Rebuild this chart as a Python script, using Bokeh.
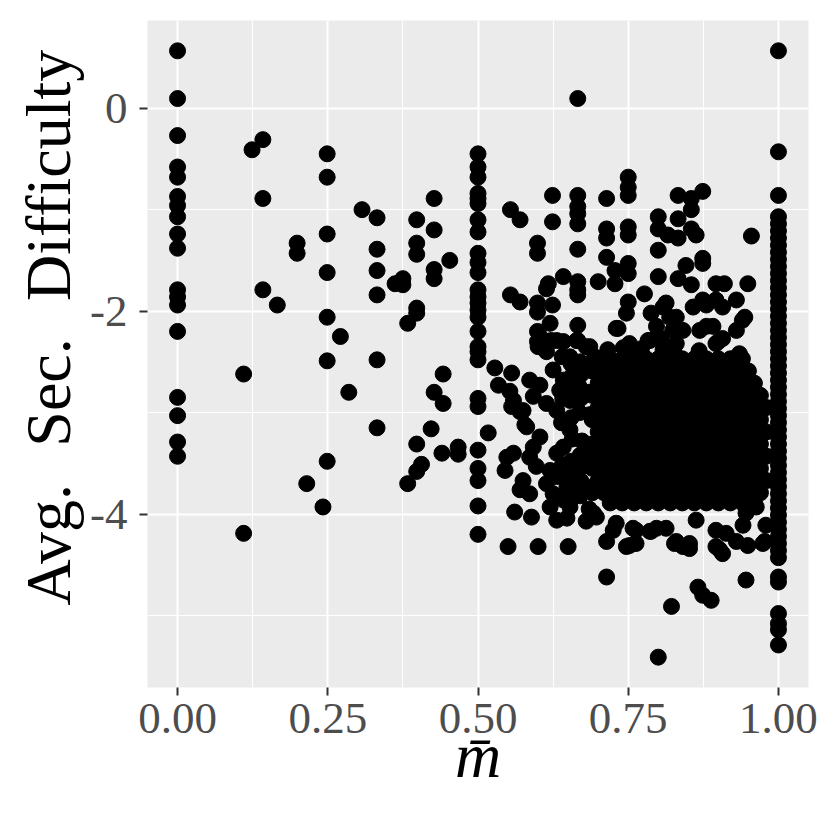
from bokeh.plotting import figure
from bokeh.models import FixedTicker, ColumnDataSource, Range1d, NumeralTickFormatter, Title
from bokeh.embed import file_html
from bokeh.resources import INLINE

# ---- data ----
col0_y = [0.565, 0.095, -0.27, -0.58, -0.68, -0.87, -0.96, -1.07, -1.24, -1.38,
          -1.79, -1.86, -1.94, -2.20, -2.85, -3.03, -3.29, -3.43]

col_half_y = [-0.45, -0.58, -0.68, -0.84, -0.89, -0.94, -1.10, -1.22, -1.43, -1.52,
              -1.62, -1.79, -1.86, -1.92, -1.99, -2.06, -2.20, -2.35, -2.40, -2.48,
              -2.86, -2.94, -3.37, -3.55, -3.67, -3.92, -4.20]

col1_y = [0.565, -0.43, -0.86, -1.07, -1.14, -1.21, -1.28, -1.35, -1.42, -1.49, -1.56,
          -1.63, -1.70, -1.77, -1.84, -1.91, -1.98, -2.05, -2.12, -2.19, -2.26, -2.33,
          -2.40, -2.47, -2.54, -2.61, -2.68, -2.75, -2.82, -2.89, -2.96, -3.03, -3.10,
          -3.17, -3.24, -3.31, -3.38, -3.45, -3.52, -3.59, -3.66, -3.73, -3.80, -3.87,
          -3.94, -4.01, -4.08, -4.15, -4.22, -4.29, -4.36, -4.43, -4.62, -4.67, -4.98,
          -5.08, -5.14, -5.29]

left_x = [0.110, 0.110, 0.124, 0.142, 0.142, 0.142, 0.166, 0.199, 0.199, 0.215, 0.242,
          0.249, 0.249, 0.249, 0.249, 0.249, 0.249, 0.249, 0.271, 0.285, 0.307, 0.332,
          0.332, 0.332, 0.332, 0.332, 0.332, 0.362, 0.375, 0.375, 0.383, 0.383, 0.398,
          0.398, 0.398, 0.398, 0.398, 0.398, 0.398, 0.406, 0.422, 0.427, 0.427, 0.427,
          0.427, 0.427, 0.440, 0.442, 0.442, 0.453, 0.467, 0.467]
left_y = [-2.62, -4.19, -0.41, -0.31, -0.89, -1.79, -1.94, -1.33, -1.43, -3.70, -3.93,
          -0.45, -0.68, -1.24, -1.62, -2.06, -2.49, -3.48, -2.25, -2.80, -1.00, -1.08,
          -1.39, -1.60, -1.84, -2.48, -3.15, -1.73, -1.68, -1.74, -2.12, -3.70, -1.10,
          -1.33, -1.44, -1.97, -2.02, -3.31, -3.58, -3.51, -3.16, -0.89, -1.20, -1.59,
          -1.68, -2.80, -3.40, -2.62, -2.91, -1.50, -3.34, -3.41]

upper_x = [0.554, 0.570, 0.624, 0.624, 0.666, 0.666, 0.666, 0.666, 0.666, 0.714, 0.750,
           0.750, 0.750, 0.833, 0.855, 0.874, 0.855, 0.800, 0.833, 0.800, 0.816, 0.833,
           0.855, 0.863, 0.714, 0.714, 0.750, 0.750, 0.599, 0.599, 0.666, 0.714, 0.800,
           0.955, 0.874, 0.874, 0.846, 0.750, 0.750, 0.728, 0.728, 0.700, 0.642, 0.617,
           0.614, 0.666, 0.666, 0.666, 0.554, 0.570, 0.599, 0.599, 0.624, 0.800, 0.833,
           0.855, 0.896, 0.910, 0.949, 0.777, 0.750, 0.747, 0.733, 0.788, 0.808, 0.819,
           0.797, 0.824, 0.786, 0.805, 0.752, 0.813, 0.830, 0.841, 0.830,
           0.858, 0.880, 0.907, 0.930, 0.944, 0.930, 0.907, 0.896, 0.869, 0.880, 0.891,
           0.874, 0.896, 0.940,
           0.730, 0.666, 0.666, 0.599, 0.599, 0.622, 0.642, 0.680, 0.620, 0.783, 0.900,
           0.686, 0.694, 0.603, 0.631, 0.600, 0.614, 0.664, 0.653,
           0.716, 0.772, 0.826, 0.868, 0.935, 0.742, 0.808]
upper_y = [-1.00, -1.10, -0.86, -1.12, 0.095, -0.86, -0.97, -1.04, -1.14, -0.89, -0.68,
           -0.78, -0.86, -0.86, -0.89, -0.82, -1.00, -1.07, -1.09, -1.19, -1.25, -1.28,
           -1.19, -1.25, -1.19, -1.28, -1.17, -1.25, -1.33, -1.43, -1.39, -1.47, -1.40,
           -1.26, -1.48, -1.53, -1.55, -1.53, -1.63, -1.60, -1.73, -1.71, -1.66, -1.73,
           -1.78, -1.71, -1.79, -1.84, -1.84, -1.91, -1.92, -2.01, -1.94, -1.66, -1.68,
           -1.74, -1.73, -1.73, -1.73, -1.83, -1.91, -2.02, -2.17, -2.02, -1.96, -2.06,
           -2.15, -2.19, -2.29, -2.27, -2.32, -1.92, -2.06, -2.19, -2.32,
           -1.96, -1.94, -1.96, -1.89, -2.06, -2.19, -2.27, -2.32, -2.19, -2.15, -2.15,
           -1.89, -1.89, -2.09,
           -2.17, -2.14, -2.29, -2.20, -2.30, -2.29, -2.30, -2.35, -2.12, -2.29, -2.30,
           -2.35, -2.45, -2.25, -2.29, -2.35, -2.40, -2.29, -2.45,
           -2.38, -2.37, -2.40, -2.39, -2.42, -2.36, -2.38]

mid_x = [0.528, 0.556, 0.534, 0.553, 0.586, 0.603, 0.625, 0.642, 0.636, 0.559, 0.575,
         0.592, 0.614, 0.631, 0.653, 0.581, 0.517, 0.603, 0.592, 0.653, 0.642, 0.631,
         0.548, 0.559, 0.545, 0.586, 0.597, 0.620, 0.631, 0.575, 0.570, 0.586, 0.614,
         0.625, 0.648, 0.669, 0.561, 0.589, 0.620, 0.631, 0.648, 0.653, 0.680, 0.692,
         0.550, 0.600, 0.650, 0.578, 0.570, 0.556,
         0.670, 0.672, 0.668, 0.671, 0.669, 0.673, 0.670, 0.668, 0.672, 0.670,
         0.655, 0.656, 0.654, 0.655, 0.657, 0.655, 0.654, 0.656,
         0.640, 0.641, 0.639, 0.640, 0.642,
         0.685, 0.684, 0.686, 0.685, 0.684, 0.686, 0.685]
mid_y = [-2.56, -2.61, -2.73, -2.79, -2.68, -2.73, -2.58, -2.68, -2.78, -2.88, -2.98,
         -2.84, -2.91, -2.98, -2.88, -3.14, -3.20, -3.24, -3.34, -3.17, -3.34, -3.40,
         -3.44, -3.40, -3.57, -3.44, -3.53, -3.57, -3.63, -3.67, -3.76, -3.80, -3.70,
         -3.80, -3.73, -3.70, -3.98, -4.03, -3.93, -4.06, -4.04, -3.93, -4.07, -3.99,
         -4.32, -4.32, -4.32, -3.12, -2.99, -2.94,
         -2.50, -2.62, -2.74, -2.86, -3.00, -3.28, -3.42, -3.56, -3.68, -3.82,
         -2.52, -2.64, -2.76, -3.05, -3.26, -3.48, -3.60, -3.84,
         -2.45, -2.86, -3.10, -3.52, -3.86,
         -2.56, -2.80, -3.02, -3.36, -3.50, -3.74, -3.95]

low_x = [0.714, 0.747, 0.763, 0.714, 0.827, 0.852, 0.841, 0.896, 0.907, 0.930, 0.949,
         0.977, 0.946, 0.866, 0.874, 0.888, 0.822, 0.800, 0.979, 0.941, 0.946, 0.963,
         0.788, 0.813, 0.730, 0.725, 0.763, 0.863, 0.896, 0.913, 0.752, 0.786, 0.830,
         0.852, 0.902, 0.974, 0.758, 0.797, 0.697]
low_y = [-4.27, -4.32, -4.29, -4.62, -4.29, -4.29, -4.32, -4.32, -4.39, -4.27, -4.31,
         -4.27, -4.65, -4.72, -4.80, -4.85, -4.91, -5.41, -4.11, -4.11, -3.99, -3.93,
         -4.17, -4.14, -4.09, -4.16, -4.16, -4.06, -4.16, -4.19, -4.31, -4.17, -4.27,
         -4.34, -4.35, -4.29, -4.14, -4.14, -4.03]

# dense core, row by row (y value, x positions read across the black mass)
core_rows_y = [-2.47, -2.59, -2.71, -2.83, -2.95, -3.07, -3.19, -3.31, -3.43, -3.55,
               -3.67, -3.79, -3.89]
core_rows_x = [
    [0.70, 0.72, 0.74, 0.76, 0.78, 0.80, 0.82, 0.84, 0.86, 0.88, 0.90, 0.92, 0.94],
    [0.69, 0.71, 0.73, 0.75, 0.77, 0.79, 0.81, 0.83, 0.85, 0.87, 0.89, 0.91, 0.93, 0.95],
    [0.70, 0.72, 0.74, 0.76, 0.78, 0.80, 0.82, 0.84, 0.86, 0.88, 0.90, 0.92, 0.94, 0.96],
    [0.69, 0.71, 0.73, 0.75, 0.77, 0.79, 0.81, 0.83, 0.85, 0.87, 0.89, 0.91, 0.93, 0.95, 0.97],
    [0.70, 0.72, 0.74, 0.76, 0.78, 0.80, 0.82, 0.84, 0.86, 0.88, 0.90, 0.92, 0.94, 0.96, 0.98],
    [0.69, 0.71, 0.73, 0.75, 0.77, 0.79, 0.81, 0.83, 0.85, 0.87, 0.89, 0.91, 0.93, 0.95, 0.97],
    [0.70, 0.72, 0.74, 0.76, 0.78, 0.80, 0.82, 0.84, 0.86, 0.88, 0.90, 0.92, 0.94, 0.96, 0.98],
    [0.69, 0.71, 0.73, 0.75, 0.77, 0.79, 0.81, 0.83, 0.85, 0.87, 0.89, 0.91, 0.93, 0.95, 0.97],
    [0.70, 0.72, 0.74, 0.76, 0.78, 0.80, 0.82, 0.84, 0.86, 0.88, 0.90, 0.92, 0.94, 0.96, 0.98],
    [0.69, 0.71, 0.73, 0.75, 0.77, 0.79, 0.81, 0.83, 0.85, 0.87, 0.89, 0.91, 0.93, 0.95, 0.97],
    [0.70, 0.72, 0.74, 0.76, 0.78, 0.80, 0.82, 0.84, 0.86, 0.88, 0.90, 0.92, 0.94, 0.96, 0.98],
    [0.69, 0.71, 0.73, 0.75, 0.77, 0.79, 0.81, 0.83, 0.85, 0.87, 0.89, 0.91, 0.93, 0.95, 0.97],
    [0.72, 0.74, 0.76, 0.78, 0.80, 0.82, 0.84, 0.86, 0.88, 0.90, 0.92, 0.94, 0.96],
]

x_ticks = [0, 0.25, 0.5, 0.75, 1.0]
x_minor = [0.125, 0.375, 0.625, 0.875]
y_ticks = [-4, -2, 0]
y_minor = [-5, -3, -1]

x_title = "m\u0304"
y_title = "Avg.\u2002\u200aSec.\u2002\u200aDifficulty"

# ---- assemble ----
xs, ys = [], []
for v in col0_y:
    xs.append(0.0); ys.append(v)
for v in col_half_y:
    xs.append(0.5); ys.append(v)
for v in col1_y:
    xs.append(1.0); ys.append(v)
for gx, gy in [(left_x, left_y), (upper_x, upper_y), (mid_x, mid_y), (low_x, low_y)]:
    xs.extend(gx); ys.extend(gy)
for ry, rx in zip(core_rows_y, core_rows_x):
    for v in rx:
        xs.append(v); ys.append(ry)

src = ColumnDataSource(dict(x=xs, y=ys))

p = figure(width=822, height=822, output_backend="svg", toolbar_location=None,
           x_range=Range1d(-0.05, 1.05), y_range=Range1d(-5.709, 0.864),
           min_border_left=147, min_border_right=14, min_border_top=20,
           min_border_bottom=135, background_fill_color="#EBEBEB",
           border_fill_color="white")
p.outline_line_color = None

p.scatter("x", "y", source=src, size=16, color="black")

p.xaxis.ticker = FixedTicker(ticks=x_ticks, minor_ticks=x_minor)
p.yaxis.ticker = FixedTicker(ticks=y_ticks, minor_ticks=y_minor)
p.xaxis.formatter = NumeralTickFormatter(format="0.00")
p.yaxis.formatter = NumeralTickFormatter(format="0")

for g in (p.xgrid, p.ygrid):
    g.grid_line_color = "white"
    g.grid_line_width = 2
    g.minor_grid_line_color = "white"
    g.minor_grid_line_width = 1

p.axis.axis_line_color = None
p.axis.major_tick_line_color = "#333333"
p.axis.major_tick_line_width = 2
p.axis.major_tick_out = 8
p.axis.major_tick_in = 0
p.axis.minor_tick_line_color = None
p.axis.major_label_text_font = "Liberation Serif"
p.axis.major_label_text_font_size = "45px"
p.axis.major_label_text_color = "#4D4D4D"
p.xaxis.major_label_standoff = 8
p.yaxis.major_label_standoff = 12

p.xaxis.axis_label = x_title
p.xaxis.axis_label_text_font = "Liberation Serif"
p.xaxis.axis_label_text_font_size = "64px"
p.xaxis.axis_label_text_color = "black"
p.xaxis.axis_label_text_font_style = "italic"
p.xaxis.axis_label_standoff = -16

# y title as a side title (lets it sit a little above the panel centre)
ytitle = Title(text=y_title, align="left", offset=82, standoff=7,
               text_font="Liberation Serif", text_font_size="64px",
               text_color="black", text_font_style="normal")
p.add_layout(ytitle, "left")

open("out.html", "w").write(file_html(p, INLINE))
